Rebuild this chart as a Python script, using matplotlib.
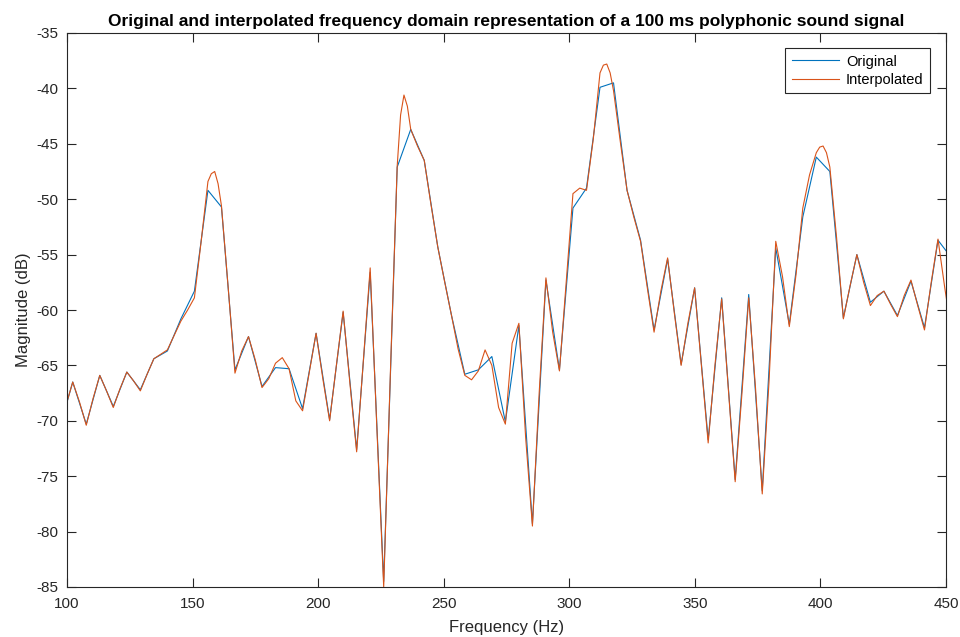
import numpy as np
import matplotlib.pyplot as plt

plt.rcParams['font.family'] = ['Liberation Sans', 'DejaVu Sans']
plt.rcParams['axes.unicode_minus'] = False

# FFT bins (Hz) of the original spectrum
freq_orig = [96.90, 102.28, 107.67, 113.05, 118.43, 123.82, 129.20, 134.58, 139.97,
             145.35, 150.73, 156.12, 161.50, 166.88, 172.27, 177.65, 183.03, 188.42,
             193.80, 199.18, 204.57, 209.95, 215.33, 220.72, 226.10, 231.48, 236.87,
             242.25, 247.63, 253.02, 258.40, 263.78, 269.17, 274.55, 279.93, 285.32,
             290.70, 296.08, 301.46, 306.85, 312.23, 317.61, 323.00, 328.38, 333.76,
             339.15, 344.53, 349.91, 355.30, 360.68, 366.06, 371.45, 376.83, 382.21,
             387.60, 392.98, 398.36, 403.75, 409.13, 414.51, 419.90, 425.28, 430.66,
             436.05, 441.43, 446.81, 452.20]
mag_orig = [-70.8, -66.5, -70.3, -65.9, -68.7, -65.6, -67.2, -64.4, -63.7,
            -60.8, -58.3, -49.2, -50.7, -65.4, -62.4, -66.9, -65.2, -65.3,
            -68.9, -62.1, -69.9, -60.2, -72.6, -56.6, -84.5, -47.1, -43.7,
            -46.5, -54.3, -60.4, -65.8, -65.4, -64.2, -70.1, -61.4, -79.3,
            -57.3, -65.4, -50.8, -49.0, -39.9, -39.5, -49.2, -53.7, -61.8,
            -55.4, -64.9, -58.0, -71.7, -58.9, -75.3, -58.6, -76.3, -54.4,
            -61.3, -51.6, -46.2, -47.5, -60.7, -55.0, -59.3, -58.3, -60.5,
            -57.4, -61.6, -53.7, -55.3]

# interpolated spectrum (half-bin grid, extra points on the big peaks)
freq_interp = [96.90, 99.59, 102.28, 104.97, 107.67, 110.36, 113.05, 115.74, 118.43,
               121.12, 123.82, 126.51, 129.20, 131.89, 134.58, 137.27, 139.97, 142.66,
               145.35, 148.04, 150.73, 153.42, 156.12, 157.46, 158.81, 160.15, 161.50,
               164.19, 166.88,
               169.57, 172.27, 174.96, 177.65, 180.34, 183.03, 185.72, 188.42, 191.11,
               193.80, 196.49, 199.18, 201.87, 204.57, 207.26, 209.95, 212.64, 215.33,
               218.02, 220.72, 223.41, 226.10, 228.79, 231.48, 232.83, 234.17, 235.52,
               236.87, 239.56,
               242.25, 244.94, 247.63, 250.32, 253.02, 255.71, 258.40, 261.09, 263.78,
               266.47, 269.17, 271.86, 274.55, 277.24, 279.93, 282.62, 285.32, 288.01,
               290.70, 293.39, 296.08, 298.77, 301.46, 304.16, 306.85, 309.54, 312.23,
               313.58, 314.92, 316.27, 317.61, 320.31, 323.00, 325.69, 328.38, 331.07,
               333.76, 336.46,
               339.15, 341.84, 344.53, 347.22, 349.91, 352.61, 355.30, 357.99, 360.68,
               363.37, 366.06, 368.76, 371.45, 374.14, 376.83, 379.52, 382.21, 384.91,
               387.60, 390.29, 392.98, 395.67, 398.36, 399.71, 401.05, 402.40, 403.75,
               406.44, 409.13,
               411.82, 414.51, 417.21, 419.90, 422.59, 425.28, 427.97, 430.66, 433.36,
               436.05, 438.74, 441.43, 444.12, 446.81, 449.51, 452.20]
mag_interp = [-70.8, -68.6, -66.5, -68.3, -70.4, -68.0, -65.9, -67.3, -68.8,
              -67.1, -65.6, -66.4, -67.3, -65.8, -64.4, -64.0, -63.6, -62.3,
              -61.0, -60.0, -58.9, -53.8, -48.4, -47.7, -47.5, -48.6, -50.6,
              -58.0, -65.7,
              -63.7, -62.4, -64.5, -67.0, -66.2, -64.8, -64.3, -65.3, -68.2,
              -69.1, -65.6, -62.1, -66.2, -70.0, -65.0, -60.1, -66.6, -72.8,
              -64.5, -56.2, -70.8, -85.0, -65.5, -47.0, -42.4, -40.6, -41.6,
              -43.7, -45.2,
              -46.5, -50.5, -54.3, -57.4, -60.4, -63.5, -65.9, -66.3, -65.5,
              -63.6, -65.0, -68.8, -70.3, -63.0, -61.2, -71.5, -79.5, -67.5,
              -57.1, -62.0, -65.5, -57.5, -49.5, -49.0, -49.2, -44.6, -38.6,
              -37.9, -37.8, -38.6, -40.2, -44.8, -49.2, -51.6, -53.8, -58.0,
              -62.0, -58.3,
              -55.3, -60.3, -65.0, -61.2, -58.0, -65.0, -72.0, -65.0, -59.0,
              -67.3, -75.5, -67.5, -58.9, -67.0, -76.6, -66.5, -53.8, -57.0,
              -61.5, -56.8, -50.8, -47.8, -45.8, -45.3, -45.2, -45.8, -47.1,
              -53.5, -60.8,
              -57.8, -55.0, -57.5, -59.6, -58.7, -58.3, -59.5, -60.6, -58.7,
              -57.3, -59.6, -61.8, -57.5, -53.6, -58.0, -62.0]

xticks = [100, 150, 200, 250, 300, 350, 400, 450]
yticks = [-85, -80, -75, -70, -65, -60, -55, -50, -45, -40, -35]

fig = plt.figure(figsize=(9.6, 6.37), dpi=100)
ax = fig.add_axes([67/960, 1 - 587/637, 879/960, 554/637])

ax.plot(freq_orig, mag_orig, color='#0072BD', lw=0.8, label='Original')
ax.plot(freq_interp, mag_interp, color='#D95319', lw=0.8, label='Interpolated')

ax.set_xlim(100, 450)
ax.set_ylim(-85, -35)
ax.set_xticks(xticks)
ax.set_yticks(yticks)

gray = '#262626'
for s in ax.spines.values():
    s.set_color(gray)
    s.set_linewidth(0.8)
ax.tick_params(direction='in', top=True, right=True, length=6.5, width=0.8,
               color=gray, labelcolor=gray, labelsize=11)
ax.tick_params(axis='x', pad=7)
ax.tick_params(axis='y', pad=6)

ax.set_xlabel('Frequency (Hz)', fontsize=12, color=gray, labelpad=7)
ax.set_ylabel('Magnitude (dB)', fontsize=12, color=gray, labelpad=4)
ax.set_title('Original and interpolated frequency domain representation of a 100 ms polyphonic sound signal',
             fontsize=12.5, fontweight='bold', color='black', pad=5)

leg = ax.legend(loc='upper right', fontsize=10.5, frameon=True, fancybox=False,
                framealpha=1, edgecolor=gray, handlelength=3.2, borderpad=0.45,
                labelspacing=0.3, handletextpad=0.5, borderaxespad=0,
                bbox_to_anchor=(0.982, 0.973))
leg.get_frame().set_linewidth(0.8)

fig.savefig('out.png', dpi=100)
